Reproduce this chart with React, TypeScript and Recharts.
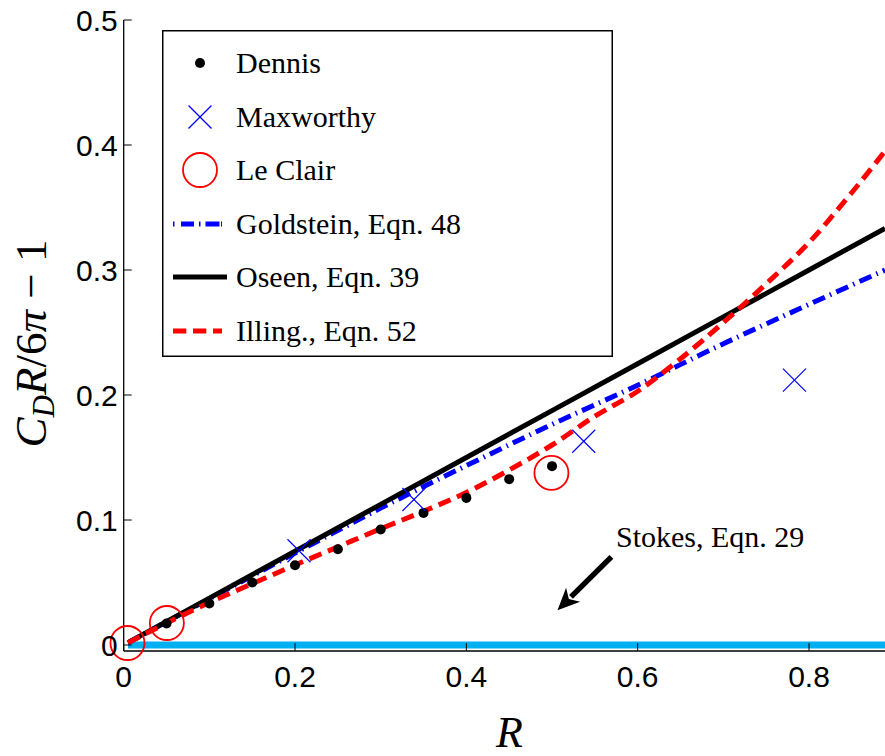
import React from 'react';
import {
  ComposedChart,
  Line,
  Scatter,
  XAxis,
  YAxis,
  Legend,
  Label,
  ReferenceLine,
  ReferenceDot,
} from 'recharts';

// ---------- data ----------
const xTicks = [0, 0.2, 0.4, 0.6, 0.8];
const xTickLabels = ['0', '0.2', '0.4', '0.6', '0.8'];
const yTicks = [0, 0.1, 0.2, 0.3, 0.4, 0.5];
const yTickLabels = ['0', '0.1', '0.2', '0.3', '0.4', '0.5'];

const dennisR = [0.05, 0.1, 0.15, 0.2, 0.25, 0.3, 0.35, 0.4, 0.45, 0.5];
const dennisV = [0.0172, 0.0332, 0.05, 0.0638, 0.0766, 0.0924, 0.1057, 0.1177, 0.1327, 0.1431];

const maxworthyR = [0.2046, 0.3388, 0.537, 0.783];
const maxworthyV = [0.0754, 0.1164, 0.163, 0.2119];

const leClairR = [0.0044, 0.0504, 0.4993];
const leClairV = [0.0016, 0.0176, 0.1377];

const stokesR = [0.005, 0.8887];
const stokesV = [0, 0];

const oseenR = [0.005, 0.1, 0.2, 0.3, 0.4, 0.5, 0.6, 0.7, 0.8, 0.8887];
const oseenV = [0.0019, 0.0375, 0.075, 0.1125, 0.15, 0.1875, 0.225, 0.2625, 0.3, 0.3333];

const goldsteinR = [0.005, 0.1, 0.2, 0.3, 0.4, 0.5, 0.6, 0.7, 0.8, 0.8887];
const goldsteinV = [0.0019, 0.037, 0.0735, 0.1095, 0.1435, 0.1765, 0.2078, 0.241, 0.2725, 0.2999];

const illingR = [0.005, 0.05, 0.1, 0.15, 0.2, 0.25, 0.3, 0.35, 0.4, 0.45, 0.5, 0.55, 0.6, 0.65, 0.7, 0.75, 0.8, 0.85, 0.8887];
const illingV = [0.0018, 0.0175, 0.034, 0.049, 0.064, 0.0785, 0.093, 0.107, 0.122, 0.14, 0.16, 0.183, 0.203, 0.229, 0.258, 0.289, 0.322, 0.362, 0.395];

const legendLabels = ['Dennis', 'Maxworthy', 'Le Clair', 'Goldstein, Eqn. 48', 'Oseen, Eqn. 39', 'Illing., Eqn. 52'];

const stokesText = 'Stokes, Eqn. 29';
const stokesTextAt = { R: 0.5747, v: 0.0786 };
const stokesArrowFrom = { R: 0.5693, v: 0.0705 };
const stokesArrowTo = { R: 0.5064, v: 0.0278 };

const toPts = (rs: number[], vs: number[]) => rs.map((R, i) => ({ R, v: vs[i] }));
const dennis = toPts(dennisR, dennisV);
const maxworthy = toPts(maxworthyR, maxworthyV);
const leClair = toPts(leClairR, leClairV);
const stokes = toPts(stokesR, stokesV);
const oseen = toPts(oseenR, oseenV);
const goldstein = toPts(goldsteinR, goldsteinV);
const illing = toPts(illingR, illingV);

// ---------- styles ----------
const SANS = '"Liberation Sans", Arial, Helvetica, sans-serif';
const SERIF = '"Liberation Serif", "Times New Roman", Times, serif';
const BLUE = '#0000ff';
const RED = '#ff0000';
const CYAN = '#00b0f0';
const GOLD_DASH = '13 5.5 1.5 5.5';
const ILL_DASH = '13 7';
const LW = 5;
const Y_MARGIN = 6;
const X_MARGIN = 15;
const TICK_LEN = 8;

const LeftTick = (props: any) => {
  const { x, y, payload } = props;
  const ax = x + Y_MARGIN;
  const idx = yTicks.indexOf(payload.value);
  return (
    <g>
      <line x1={ax} y1={y} x2={ax + TICK_LEN} y2={y} stroke="#000" strokeWidth={1} />
      <text x={x} y={y} dy="0.36em" textAnchor="end" fontFamily={SANS} fontSize={30} fill="#000">
        {idx >= 0 ? yTickLabels[idx] : String(payload.value)}
      </text>
    </g>
  );
};

const BottomTick = (props: any) => {
  const { x, y, payload } = props;
  const ay = y - X_MARGIN;
  const idx = xTicks.indexOf(payload.value);
  return (
    <g>
      <line x1={x} y1={ay} x2={x} y2={ay - TICK_LEN} stroke="#000" strokeWidth={1} />
      <text x={x} y={y} dy="0.71em" textAnchor="middle" fontFamily={SANS} fontSize={30} fill="#000">
        {idx >= 0 ? xTickLabels[idx] : String(payload.value)}
      </text>
    </g>
  );
};

const TopTick = (props: any) => {
  const { x, y } = props;
  return <line x1={x} y1={y} x2={x} y2={y + TICK_LEN} stroke="#333" strokeWidth={1} />;
};

const DotShape = (p: any) => <circle cx={p.cx} cy={p.cy} r={5} fill="#000" />;
const CrossShape = (p: any) => {
  const s = 11.5;
  return (
    <g stroke={BLUE} strokeWidth={1.2}>
      <line x1={p.cx - s} y1={p.cy - s} x2={p.cx + s} y2={p.cy + s} />
      <line x1={p.cx - s} y1={p.cy + s} x2={p.cx + s} y2={p.cy - s} />
    </g>
  );
};
const RingShape = (p: any) => <circle cx={p.cx} cy={p.cy} r={17} fill="none" stroke={RED} strokeWidth={1.8} />;

const ArrowShape = (p: any) => {
  const { x1, y1, x2, y2 } = p;
  const dx = x2 - x1;
  const dy = y2 - y1;
  const len = Math.sqrt(dx * dx + dy * dy);
  const ux = dx / len;
  const uy = dy / len;
  const headL = 22;
  const headW = 10;
  const bx = x2 - ux * headL;
  const by = y2 - uy * headL;
  const px = -uy;
  const py = ux;
  return (
    <g>
      <line x1={x1} y1={y1} x2={bx + ux * 3} y2={by + uy * 3} stroke="#000" strokeWidth={5.5} />
      <polygon
        points={`${x2},${y2} ${bx + px * headW},${by + py * headW} ${bx + ux * 6},${by + uy * 6} ${bx - px * headW},${by - py * headW}`}
        fill="#000"
      />
    </g>
  );
};

const StokesLabel = (p: any) => (
  <text x={p.cx} y={p.cy} fontFamily={SERIF} fontSize={30} fill="#000">
    {stokesText}
  </text>
);

const LegendBox = () => {
  const rows = [33, 87, 140, 194, 247, 301];
  const mx = 38;
  const lx1 = 11;
  const lx2 = 65;
  const tx = 74;
  return (
    <svg width={451} height={327} style={{ display: 'block' }}>
      <rect x={0.75} y={0.75} width={449.5} height={325.5} fill="#fff" stroke="#000" strokeWidth={1.5} />
      <circle cx={mx} cy={rows[0]} r={5} fill="#000" />
      <g stroke={BLUE} strokeWidth={1.2}>
        <line x1={mx - 11.5} y1={rows[1] - 11.5} x2={mx + 11.5} y2={rows[1] + 11.5} />
        <line x1={mx - 11.5} y1={rows[1] + 11.5} x2={mx + 11.5} y2={rows[1] - 11.5} />
      </g>
      <circle cx={mx} cy={rows[2]} r={17} fill="none" stroke={RED} strokeWidth={1.8} />
      <line x1={lx1} y1={rows[3]} x2={lx2 - 5} y2={rows[3]} stroke={BLUE} strokeWidth={LW} strokeDasharray="1.5 6.5 13 5 1.5 5 14" />
      <line x1={lx1} y1={rows[4]} x2={lx2} y2={rows[4]} stroke="#000" strokeWidth={LW} />
      <line x1={lx1} y1={rows[5]} x2={lx2 - 5} y2={rows[5]} stroke={RED} strokeWidth={LW} strokeDasharray="13.3 6.7" />
      {legendLabels.map((t, i) => (
        <text key={t} x={tx} y={rows[i] + 9.7} fontFamily={SERIF} fontSize={30} fill="#000">
          {t}
        </text>
      ))}
    </svg>
  );
};

const YLabel = (props: any) => {
  const vb = props.viewBox || { x: 0, y: 20, width: 123.7, height: 631 };
  const cx = vb.x + 46;
  const cy = vb.y + vb.height / 2 + 8;
  return (
    <text
      x={cx}
      y={cy}
      transform={`rotate(-90 ${cx} ${cy})`}
      textAnchor="middle"
      fontFamily={SERIF}
      fontSize={45}
      fill="#000"
    >
      <tspan fontStyle="italic">C</tspan>
      <tspan fontStyle="italic" fontSize={31} dy={8}>D</tspan>
      <tspan fontStyle="italic" dy={-8}>R</tspan>
      <tspan>/6</tspan>
      <tspan fontStyle="italic">π</tspan>
      <tspan> − 1</tspan>
    </text>
  );
};

const XLabel = (props: any) => {
  const vb = props.viewBox || { x: 123.7, y: 651, width: 761.3, height: 105 };
  return (
    <text
      x={vb.x + vb.width / 2 + 5}
      y={vb.y + 96}
      textAnchor="middle"
      fontFamily={SERIF}
      fontStyle="italic"
      fontSize={44}
      fill="#000"
    >
      R
    </text>
  );
};

export default function App() {
  return (
    <div style={{ position: 'absolute', left: 0, top: 0, width: 885, height: 756, overflow: 'hidden', background: '#fff' }}>
      <ComposedChart width={885} height={756} margin={{ top: 20, right: 0, bottom: 0, left: 0 }}>
        <XAxis
          xAxisId="b"
          dataKey="R"
          type="number"
          domain={[0, 0.8887]}
          ticks={xTicks}
          height={105}
          tickSize={0}
          tickMargin={X_MARGIN}
          tick={<BottomTick />}
          axisLine={{ stroke: '#000', strokeWidth: 1.3 }}
          tickLine={false}
        >
          <Label content={<XLabel />} />
        </XAxis>
        <XAxis
          xAxisId="t"
          orientation="top"
          dataKey="R"
          type="number"
          domain={[0, 0.8887]}
          ticks={xTicks}
          height={0}
          tickSize={0}
          tickMargin={0}
          tick={<TopTick />}
          axisLine={{ stroke: '#333', strokeWidth: 1.3 }}
          tickLine={false}
        />
        <YAxis
          yAxisId="l"
          type="number"
          domain={[-0.0048, 0.5]}
          ticks={yTicks}
          width={123.7}
          tickSize={0}
          tickMargin={Y_MARGIN}
          tick={<LeftTick />}
          axisLine={{ stroke: '#000', strokeWidth: 1.3 }}
          tickLine={false}
        >
          <Label content={<YLabel />} />
        </YAxis>

        <Scatter name="Dennis" data={dennis} dataKey="v" xAxisId="b" yAxisId="l" shape={<DotShape />} isAnimationActive={false} />
        <Scatter name="Maxworthy" data={maxworthy} dataKey="v" xAxisId="b" yAxisId="l" shape={<CrossShape />} isAnimationActive={false} />
        <Scatter name="Le Clair" data={leClair} dataKey="v" xAxisId="b" yAxisId="l" shape={<RingShape />} isAnimationActive={false} />

        <Line name="Stokes" data={stokes} dataKey="v" xAxisId="b" yAxisId="l" type="linear" stroke={CYAN} strokeWidth={7} dot={false} activeDot={false} isAnimationActive={false} />
        <Line name="Goldstein" data={goldstein} dataKey="v" xAxisId="b" yAxisId="l" type="monotone" stroke={BLUE} strokeWidth={LW} strokeDasharray={GOLD_DASH} dot={false} activeDot={false} isAnimationActive={false} />
        <Line name="Oseen" data={oseen} dataKey="v" xAxisId="b" yAxisId="l" type="linear" stroke="#000" strokeWidth={LW} dot={false} activeDot={false} isAnimationActive={false} />
        <Line name="Illing" data={illing} dataKey="v" xAxisId="b" yAxisId="l" type="monotone" stroke={RED} strokeWidth={LW} strokeDasharray={ILL_DASH} dot={false} activeDot={false} isAnimationActive={false} />

        <ReferenceLine
          xAxisId="b"
          yAxisId="l"
          segment={[
            { x: stokesArrowFrom.R, y: stokesArrowFrom.v },
            { x: stokesArrowTo.R, y: stokesArrowTo.v },
          ]}
          shape={<ArrowShape />}
          ifOverflow="visible"
        />
        <ReferenceDot xAxisId="b" yAxisId="l" x={stokesTextAt.R} y={stokesTextAt.v} shape={<StokesLabel />} ifOverflow="visible" />

        <Legend
          layout="vertical"
          align="center"
          verticalAlign="middle"
          content={<LegendBox />}
          wrapperStyle={{ position: 'absolute', left: 162, top: 30, width: 451, height: 327 }}
        />
      </ComposedChart>
    </div>
  );
}
